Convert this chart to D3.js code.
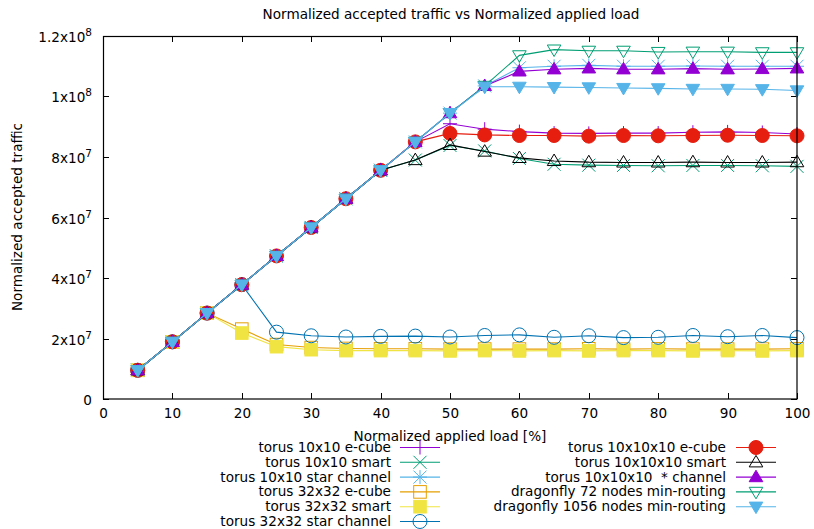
<!DOCTYPE html>
<html><head><meta charset="utf-8">
<script src="https://cdn.jsdelivr.net/npm/d3@7"></script>
<style>body{margin:0;background:#fff}svg{display:block}text{font-family:"DejaVu Sans",sans-serif;fill:#000;white-space:pre}</style>
</head><body><svg id="c" width="814" height="529"></svg>
<script>
const loads = [5,10,15,20,25,30,35,40,45,50,55,60,65,70,75,80,85,90,95,100];
const t10_ecube   = [9.5e6,1.89e7,2.84e7,3.78e7,4.73e7,5.67e7,6.62e7,7.56e7,8.5e7,9.1e7,8.92e7,8.84e7,8.79e7,8.78e7,8.79e7,8.79e7,8.82e7,8.83e7,8.81e7,8.76e7];
const t10_smart   = [9.5e6,1.89e7,2.84e7,3.78e7,4.73e7,5.67e7,6.62e7,7.56e7,7.9e7,8.38e7,8.2e7,7.95e7,7.76e7,7.73e7,7.72e7,7.71e7,7.72e7,7.72e7,7.71e7,7.69e7];
const t10_star    = [9.5e6,1.89e7,2.84e7,3.78e7,4.73e7,5.67e7,6.62e7,7.56e7,8.5e7,9.45e7,1.035e8,1.095e8,1.1e8,1.103e8,1.1e8,1.1e8,1.101e8,1.1e8,1.1e8,1.1e8];
const t32_ecube   = [9.5e6,1.89e7,2.84e7,2.31e7,1.8e7,1.7e7,1.67e7,1.66e7,1.66e7,1.65e7,1.65e7,1.65e7,1.65e7,1.66e7,1.65e7,1.66e7,1.65e7,1.65e7,1.65e7,1.66e7];
const t32_smart   = [9.5e6,1.89e7,2.84e7,2.18e7,1.73e7,1.63e7,1.6e7,1.6e7,1.6e7,1.59e7,1.6e7,1.59e7,1.6e7,1.59e7,1.6e7,1.6e7,1.59e7,1.6e7,1.59e7,1.6e7];
const t32_star    = [9.5e6,1.89e7,2.84e7,3.78e7,2.21e7,2.09e7,2.05e7,2.07e7,2.08e7,2.05e7,2.1e7,2.12e7,2.04e7,2.09e7,2.03e7,2.04e7,2.1e7,2.06e7,2.1e7,2.03e7];
const t1000_ecube = [9.5e6,1.89e7,2.84e7,3.78e7,4.73e7,5.67e7,6.62e7,7.56e7,8.5e7,8.78e7,8.73e7,8.71e7,8.71e7,8.69e7,8.71e7,8.7e7,8.71e7,8.72e7,8.71e7,8.7e7];
const t1000_smart = [9.5e6,1.89e7,2.84e7,3.78e7,4.73e7,5.67e7,6.62e7,7.56e7,7.9e7,8.4e7,8.18e7,7.97e7,7.87e7,7.83e7,7.82e7,7.82e7,7.83e7,7.82e7,7.82e7,7.83e7];
const t1000_star  = [9.5e6,1.89e7,2.84e7,3.78e7,4.73e7,5.67e7,6.62e7,7.56e7,8.5e7,9.45e7,1.035e8,1.083e8,1.09e8,1.093e8,1.09e8,1.09e8,1.092e8,1.09e8,1.091e8,1.093e8];
const df72        = [9.5e6,1.89e7,2.84e7,3.78e7,4.73e7,5.67e7,6.62e7,7.56e7,8.5e7,9.45e7,1.035e8,1.136e8,1.155e8,1.151e8,1.151e8,1.147e8,1.148e8,1.148e8,1.146e8,1.146e8];
const df1056      = [9.5e6,1.89e7,2.84e7,3.78e7,4.73e7,5.67e7,6.62e7,7.56e7,8.5e7,9.45e7,1.032e8,1.032e8,1.031e8,1.03e8,1.028e8,1.027e8,1.025e8,1.025e8,1.024e8,1.02e8];

const seriesNames = ["torus 10x10 e-cube","torus 10x10 smart","torus 10x10 star channel","torus 32x32 e-cube","torus 32x32 smart","torus 32x32 star channel","torus 10x10x10 e-cube","torus 10x10x10 smart","torus 10x10x10  * channel","dragonfly 72 nodes min-routing","dragonfly 1056 nodes min-routing"];
const seriesValues = [t10_ecube,t10_smart,t10_star,t32_ecube,t32_smart,t32_star,t1000_ecube,t1000_smart,t1000_star,df72,df1056];
const xTicks = [0,10,20,30,40,50,60,70,80,90,100];
const yTicks = [0,2e7,4e7,6e7,8e7,1e8,1.2e8];
const yTickLabels = [["0",""],["2x10","7"],["4x10","7"],["6x10","7"],["8x10","7"],["1x10","8"],["1.2x10","8"]];

const colors = ["#9400d3","#009e73","#56b4e9","#e69f00","#f0e442","#0072b2","#e51e10","#000000","#9400d3","#009e73","#56b4e9"];
const markers = ["plus","cross","star","sqO","sqF","circO","circF","triUO","triUF","triDO","triDF"];

const svg = d3.select("#c");
const x = d3.scaleLinear().domain([0,100]).range([103,797]);
const y = d3.scaleLinear().domain([0,1.2e8]).range([399,36]);
const FS = 13.6;

svg.append("text").attr("x",451).attr("y",19).attr("text-anchor","middle").attr("font-size",FS).text("Normalized accepted traffic vs Normalized applied load");
svg.append("text").attr("x",450).attr("y",441).attr("text-anchor","middle").attr("font-size",FS).text("Normalized applied load [%]");
svg.append("text").attr("transform","translate(22,217) rotate(-90)").attr("text-anchor","middle").attr("font-size",FS).text("Normalized accepted traffic");

const tk = svg.append("g").attr("stroke","#000").attr("stroke-width",1);
xTicks.forEach(v=>{
  const px = Math.round(x(v))+0.5;
  tk.append("line").attr("x1",px).attr("x2",px).attr("y1",399).attr("y2",393);
  tk.append("line").attr("x1",px).attr("x2",px).attr("y1",36).attr("y2",42);
  svg.append("text").attr("x",px).attr("y",418).attr("text-anchor","middle").attr("font-size",FS).text(v);
});
yTicks.forEach((v,i)=>{
  const py = Math.round(y(v))+0.5;
  tk.append("line").attr("x1",103).attr("x2",109).attr("y1",py).attr("y2",py);
  tk.append("line").attr("x1",797).attr("x2",791).attr("y1",py).attr("y2",py);
  const t = svg.append("text").attr("x",92).attr("y",py+5).attr("text-anchor","end").attr("font-size",FS);
  t.append("tspan").text(yTickLabels[i][0]);
  if (yTickLabels[i][1]) t.append("tspan").attr("dy",-6).attr("font-size",10.5).text(yTickLabels[i][1]);
});

function drawMarker(g, type, cx, cy, col){
  const s = 7;
  if (type==="plus"){
    g.append("path").attr("d",`M${cx-s},${cy}H${cx+s}M${cx},${cy-s}V${cy+s}`).attr("stroke",col).attr("fill","none");
  } else if (type==="cross"){
    const a=6.5;
    g.append("path").attr("d",`M${cx-a},${cy-a}L${cx+a},${cy+a}M${cx-a},${cy+a}L${cx+a},${cy-a}`).attr("stroke",col).attr("fill","none");
  } else if (type==="star"){
    const a=6.5;
    g.append("path").attr("d",`M${cx-a},${cy-a}L${cx+a},${cy+a}M${cx-a},${cy+a}L${cx+a},${cy-a}M${cx-s},${cy}H${cx+s}M${cx},${cy-s}V${cy+s}`).attr("stroke",col).attr("fill","none");
  } else if (type==="sqO"||type==="sqF"){
    const a=6.3;
    g.append("rect").attr("x",cx-a).attr("y",cy-a).attr("width",2*a).attr("height",2*a)
      .attr("fill",type==="sqF"?col:"none").attr("stroke",col);
  } else if (type==="circO"||type==="circF"){
    g.append("circle").attr("cx",cx).attr("cy",cy).attr("r",7)
      .attr("fill",type==="circF"?col:"none").attr("stroke",col);
  } else {
    const up = type.startsWith("triU");
    const w=6.8, h=11.5;
    const d = up ? `M${cx},${cy-h*0.6}L${cx+w},${cy+h*0.4}L${cx-w},${cy+h*0.4}Z`
                 : `M${cx},${cy+h*0.6}L${cx+w},${cy-h*0.4}L${cx-w},${cy-h*0.4}Z`;
    g.append("path").attr("d",d).attr("fill",type.endsWith("F")?col:"none").attr("stroke",col);
  }
}

const line = d3.line().x((d,i)=>x(loads[i])).y(d=>y(d));
const legendPos = [];
for (let i=0;i<6;i++) legendPos.push({tx:391, lx1:400, lx2:440, ly:447.5+i*14.8});
for (let i=0;i<5;i++) legendPos.push({tx:726, lx1:736, lx2:776, ly:447.5+i*14.8});

seriesValues.forEach((vals,si)=>{
  const g = svg.append("g");
  const col = colors[si];
  g.append("path").datum(vals).attr("d",line).attr("fill","none").attr("stroke",col).attr("stroke-width",1.1);
  vals.forEach((v,i)=>drawMarker(g, markers[si], x(loads[i]), y(v), col));
  const lp = legendPos[si];
  svg.append("text").attr("x",lp.tx).attr("y",lp.ly+4.5).attr("text-anchor","end").attr("font-size",FS).text(seriesNames[si]);
  g.append("line").attr("x1",lp.lx1).attr("x2",lp.lx2).attr("y1",lp.ly).attr("y2",lp.ly).attr("stroke",col).attr("stroke-width",1.1);
  drawMarker(g, markers[si], (lp.lx1+lp.lx2)/2, lp.ly, col);
});

svg.append("rect").attr("x",103.5).attr("y",36.5).attr("width",693.5).attr("height",362.5).attr("fill","none").attr("stroke","#000").attr("stroke-width",1.2);
</script></body></html>
